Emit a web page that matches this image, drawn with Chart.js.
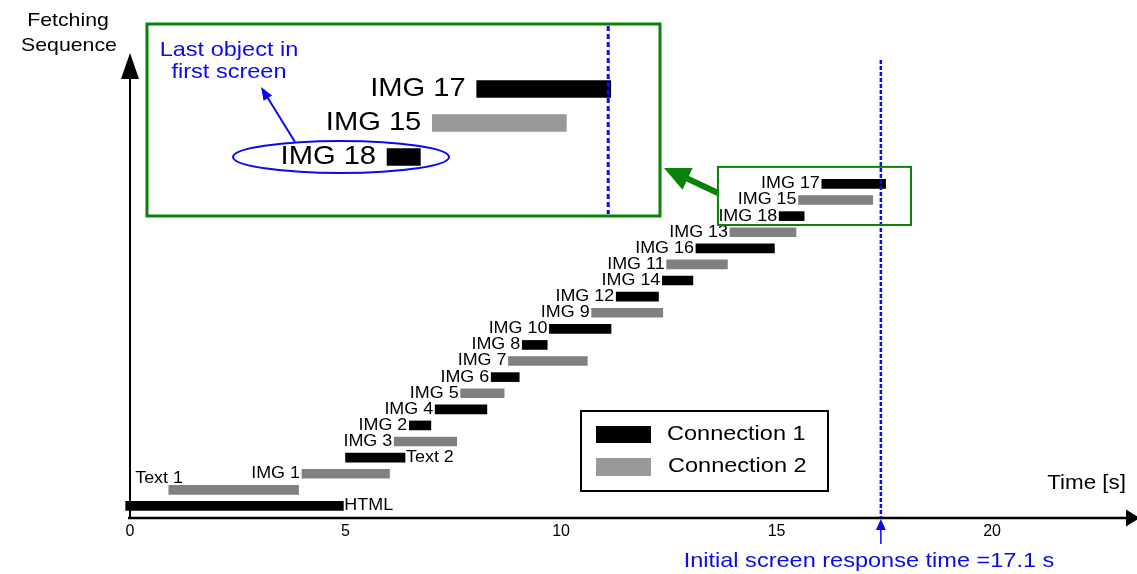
<!DOCTYPE html>
<html>
<head>
<meta charset="utf-8">
<script src="https://cdn.jsdelivr.net/npm/chart.js@4"></script>
<style>
  html, body { margin: 0; padding: 0; background: #fff; }
  #chart { display: block; }
</style>
</head>
<body>
<canvas id="chart" width="1137" height="574"></canvas>
<script>
// Порядок загрузки объектов (снизу вверх)
const objects = ['HTML', 'Text 1', 'IMG 1', 'Text 2', 'IMG 3', 'IMG 2', 'IMG 4', 'IMG 5', 'IMG 6', 'IMG 7',
    'IMG 8', 'IMG 10', 'IMG 9', 'IMG 12', 'IMG 14', 'IMG 11', 'IMG 16', 'IMG 13', 'IMG 18', 'IMG 15', 'IMG 17'];
// Начало и конец загрузки, с
const startTimes = [-0.1, 0.9, 3.99, 5.0, 6.13, 6.48, 7.08, 7.67, 8.38, 8.78,
    9.1, 9.73, 10.71, 11.28, 12.35, 12.45, 13.13, 13.92, 15.06, 15.51, 16.05];
const endTimes = [4.95, 3.91, 6.02, 6.38, 7.58, 6.98, 8.28, 8.68, 9.03, 10.61,
    9.68, 11.16, 12.36, 12.26, 13.06, 13.86, 14.95, 15.45, 15.64, 17.23, 17.53];
// Номер соединения
const connection = [1, 2, 2, 1, 2, 1, 1, 2, 1, 2, 1, 1, 2, 1, 1, 2, 1, 2, 1, 2, 1];

// Увеличенный фрагмент (врезка)
const insetObjects = ['IMG 18', 'IMG 15', 'IMG 17'];
const insetStart = [14.81, 15.34, 15.86];
const insetEnd = [15.20, 16.91, 17.43];
const insetConnection = [1, 2, 1];

const xTicks = [0, 5, 10, 15, 20];
const responseTime = 17.42;   // положение пунктирной линии
const zoomBox = { x0: 13.64, x1: 18.12, y0: 17.45, y1: 21.06 };

const FONT = '"Liberation Sans", Arial, sans-serif';
const BLUE = '#0a0af0';
const GREEN = '#0a820a';
const STRETCH = 1.12;

Chart.defaults.font.family = FONT;

function rowsFor(conn) {
    const out = [];
    objects.forEach((name, i) => {
        if (connection[i] === conn) out.push({ x: [startTimes[i], endTimes[i]], y: i });
    });
    return out;
}

// Текст с небольшим растяжением по горизонтали
function drawText(ctx, s, x, y, size, color, align) {
    ctx.save();
    ctx.font = size + 'px ' + FONT;
    ctx.fillStyle = color;
    ctx.textBaseline = 'middle';
    ctx.textAlign = 'left';
    const w = ctx.measureText(s).width * STRETCH;
    let x0 = x;
    if (align === 'right') x0 = x - w;
    if (align === 'center') x0 = x - w / 2;
    ctx.translate(x0, y);
    ctx.scale(STRETCH, 1);
    ctx.fillText(s, 0, 0);
    ctx.restore();
}

function arrowHead(ctx, fx, fy, tx, ty, len, half, color) {
    const dx = tx - fx, dy = ty - fy;
    const l = Math.hypot(dx, dy);
    const ux = dx / l, uy = dy / l;
    const bx = tx - ux * len, by = ty - uy * len;
    ctx.save();
    ctx.fillStyle = color;
    ctx.beginPath();
    ctx.moveTo(tx, ty);
    ctx.lineTo(bx - uy * half, by + ux * half);
    ctx.lineTo(bx + uy * half, by - ux * half);
    ctx.closePath();
    ctx.fill();
    ctx.restore();
}

const decorPlugin = {
    id: 'decor',
    afterDatasetsDraw(chart) {
        const ctx = chart.ctx;
        const x = chart.scales.x, y = chart.scales.y;
        const xi = chart.scales.xi, yi = chart.scales.yi;
        const area = chart.chartArea;
        const x0 = x.getPixelForValue(0);
        const yBase = area.bottom;

        // Оси
        ctx.save();
        ctx.strokeStyle = '#000';
        ctx.lineWidth = 2.5;
        ctx.beginPath();
        ctx.moveTo(x0 - 2, yBase);
        ctx.lineTo(1128, yBase);
        ctx.stroke();
        ctx.lineWidth = 2;
        ctx.beginPath();
        ctx.moveTo(x0, yBase);
        ctx.lineTo(x0, 70);
        ctx.stroke();
        ctx.restore();
        arrowHead(ctx, 0, yBase, 1140, yBase, 14, 8.5, '#000');
        arrowHead(ctx, x0, yBase, x0, 53, 26, 9, '#000');

        // Подписи полос
        objects.forEach((name, i) => {
            const ys = y.getPixelForValue(i);
            const sx = x.getPixelForValue(startTimes[i]);
            const ex = x.getPixelForValue(endTimes[i]);
            if (name === 'HTML' || name === 'Text 2') {
                drawText(ctx, name, ex + 1, ys, 16, '#000', 'left');
            } else if (name === 'Text 1') {
                drawText(ctx, name, x.getPixelForValue(0.12), y.getPixelForValue(1.71), 16, '#000', 'left');
            } else {
                drawText(ctx, name, sx - 2, ys, 16, '#000', 'right');
            }
        });

        // Пунктир: время отклика
        const rx = x.getPixelForValue(responseTime);
        ctx.save();
        ctx.strokeStyle = BLUE;
        ctx.lineWidth = 2.5;
        ctx.setLineDash([4, 2]);
        ctx.beginPath();
        ctx.moveTo(rx, 60);
        ctx.lineTo(rx, yBase);
        ctx.stroke();
        ctx.setLineDash([]);
        ctx.lineWidth = 1.5;
        ctx.beginPath();
        ctx.moveTo(rx, 544);
        ctx.lineTo(rx, 526);
        ctx.stroke();
        ctx.restore();
        arrowHead(ctx, rx, 544, rx, yBase + 1, 11, 5, BLUE);
        drawText(ctx, 'Initial screen response time =17.1 s', 869, 561, 21, BLUE, 'center');

        // Маленькая рамка вокруг IMG 15-17
        const bx0 = x.getPixelForValue(zoomBox.x0), bx1 = x.getPixelForValue(zoomBox.x1);
        const by0 = y.getPixelForValue(zoomBox.y1), by1 = y.getPixelForValue(zoomBox.y0);
        ctx.save();
        ctx.strokeStyle = GREEN;
        ctx.lineWidth = 2;
        ctx.strokeRect(bx0, by0, bx1 - bx0, by1 - by0);
        // зелёная стрелка к врезке
        ctx.lineWidth = 6;
        ctx.beginPath();
        ctx.moveTo(bx0, 193);
        ctx.lineTo(684, 177);
        ctx.stroke();
        ctx.restore();
        arrowHead(ctx, bx0, 193, 664, 168, 26, 12, GREEN);

        // Врезка
        ctx.save();
        ctx.strokeStyle = GREEN;
        ctx.lineWidth = 3;
        ctx.strokeRect(147, 24, 513, 192);
        ctx.restore();
        insetObjects.forEach((name, i) => {
            const sx = xi.getPixelForValue(insetStart[i]);
            drawText(ctx, name, sx - 11, yi.getPixelForValue(i), 26, '#000', 'right');
        });
        const ix = xi.getPixelForValue(responseTime - 0.02);
        ctx.save();
        ctx.strokeStyle = BLUE;
        ctx.lineWidth = 3;
        ctx.setLineDash([5, 3]);
        ctx.beginPath();
        ctx.moveTo(ix, 26);
        ctx.lineTo(ix, 214);
        ctx.stroke();
        ctx.setLineDash([]);
        ctx.lineWidth = 2;
        ctx.beginPath();
        ctx.ellipse(341, 157, 108, 16, 0, 0, Math.PI * 2);
        ctx.stroke();
        ctx.beginPath();
        ctx.moveTo(295, 142);
        ctx.lineTo(266, 95);
        ctx.stroke();
        ctx.restore();
        arrowHead(ctx, 295, 142, 261, 87, 13, 5, BLUE);
        drawText(ctx, 'Last object in', 229, 50, 21, BLUE, 'center');
        drawText(ctx, 'first screen', 229, 72, 21, BLUE, 'center');

        // Легенда
        ctx.save();
        ctx.strokeStyle = '#000';
        ctx.lineWidth = 2;
        ctx.strokeRect(581, 411, 247, 80);
        ctx.fillStyle = '#000';
        ctx.fillRect(596, 426, 55, 17);
        ctx.fillStyle = '#999';
        ctx.fillRect(596, 458, 55, 18);
        ctx.restore();
        drawText(ctx, 'Connection 1', 667, 434, 21, '#000', 'left');
        drawText(ctx, 'Connection 2', 668, 466, 21, '#000', 'left');

        // Подписи осей
        drawText(ctx, 'Fetching', 68, 21, 19, '#000', 'center');
        drawText(ctx, 'Sequence', 69, 46, 19, '#000', 'center');
        drawText(ctx, 'Time [s]', 1126, 483, 20, '#000', 'right');
    }
};

new Chart(document.getElementById('chart'), {
    type: 'bar',
    data: {
        datasets: [
            {
                label: 'Connection 1',
                data: rowsFor(1),
                backgroundColor: '#000',
                barThickness: 9,
                grouped: false,
                clip: 6,
            },
            {
                label: 'Connection 2',
                data: rowsFor(2),
                backgroundColor: '#808080',
                barThickness: 9,
                grouped: false,
                clip: 6,
            },
            {
                label: 'inset',
                data: insetObjects.map((n, i) => ({ x: [insetStart[i], insetEnd[i]], y: i })),
                backgroundColor: insetConnection.map(c => (c === 1 ? '#000' : '#999')),
                barThickness: 17,
                grouped: false,
                xAxisID: 'xi',
                yAxisID: 'yi',
            },
        ],
    },
    options: {
        indexAxis: 'y',
        responsive: false,
        animation: false,
        layout: { padding: { top: 50, left: 130, right: 7, bottom: 0 } },
        plugins: {
            legend: { display: false },
            tooltip: { enabled: false },
        },
        scales: {
            x: {
                type: 'linear',
                min: 0,
                max: 23.2,
                grid: { display: false, drawTicks: false },
                border: { display: false },
                afterBuildTicks: s => { s.ticks = xTicks.map(v => ({ value: v })); },
                afterFit: s => { s.height = 56; },
                ticks: { font: { size: 16 }, color: '#000', padding: 4 },
            },
            y: {
                type: 'linear',
                min: -0.75,
                max: 28.32,
                offset: false,
                display: false,
            },
            xi: {
                type: 'linear',
                axis: 'x',
                min: 11.80,
                max: 23.51,
                display: false,
            },
            yi: {
                type: 'linear',
                axis: 'y',
                min: -10.62,
                max: 3.147,
                offset: false,
                display: false,
            },
        },
    },
    plugins: [decorPlugin],
});
</script>
</body>
</html>
